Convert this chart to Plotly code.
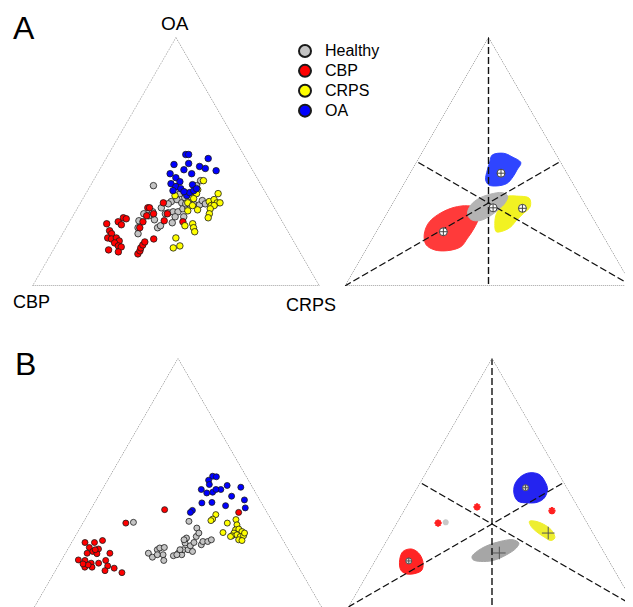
import plotly.graph_objects as go

# ---------------- DATA (ternary shares in %, OA + CBP + CRPS = 100) ----------------
groups = ["Healthy", "CBP", "CRPS", "OA"]

# Panel A, left: individual subjects (OA share, CRPS share; CBP is the remainder)
healthy_A_oa = [40.3, 42.3, 40.3, 33.9, 34.7, 33.4, 35.5, 34.3, 33.0, 32.6, 34.3, 29.0, 29.8, 31.4, 29.4,
                29.8, 29.8, 27.8, 27.8, 25.4, 26.6, 23.4, 24.2, 26.2, 23.4, 21.0, 28.2, 31.0, 31.4, 33.0,
                29.0, 33.0, 37.1, 35.9, 33.0]
healthy_A_crps = [22.0, 37.4, 37.0, 31.4, 33.0, 35.3, 35.3, 37.3, 39.6, 41.9, 42.0, 24.3, 27.0, 29.2, 32.6,
                  34.1, 35.8, 38.8, 35.8, 36.0, 29.2, 31.9, 32.5, 24.0, 25.1, 26.3, 26.4, 36.9, 38.4, 36.9,
                  31.8, 30.8, 32.8, 37.2, 43.7]
cbp_A_oa = [25.0, 25.8, 24.6, 27.4, 27.0, 22.2, 21.0, 19.3, 18.9, 19.3, 18.1, 17.3, 16.1, 15.7, 14.5,
            13.7, 12.9, 14.1, 15.3, 16.5, 17.7, 23.4, 25.8, 28.2, 31.4, 31.4, 29.0, 18.9, 26.2, 33.4,
            29.0, 25.8, 39.9]
cbp_A_crps = [13.4, 17.0, 18.7, 18.0, 19.2, 15.8, 17.1, 16.6, 18.1, 19.6, 21.2, 20.0, 21.9, 23.1, 19.3,
              23.1, 30.3, 30.4, 30.1, 30.2, 30.3, 25.7, 25.6, 25.7, 24.5, 25.1, 27.7, 32.8, 32.8, 28.9,
              32.5, 39.5, 30.0]
crps_A_oa = [42.3, 38.7, 37.1, 36.3, 33.4, 30.2, 30.6, 35.1, 32.3, 33.9, 34.7, 33.4, 33.4, 37.1, 32.3,
             32.3, 31.0, 29.0, 27.4, 24.2, 25.0, 23.4, 21.8, 19.3, 16.1, 15.3]
crps_A_crps = [38.4, 38.2, 38.6, 31.5, 37.4, 39.0, 42.2, 38.6, 39.6, 44.6, 45.9, 47.6, 48.6, 46.1, 46.1,
               47.1, 46.4, 47.1, 47.5, 41.0, 43.3, 44.4, 45.6, 40.3, 43.3, 41.4]
oa_A_oa = [52.8, 52.8, 48.8, 49.2, 51.2, 48.0, 47.2, 46.3, 46.7, 45.1, 45.1, 43.5, 41.9, 41.1, 40.7,
           39.9, 39.1, 38.3, 36.3, 37.5, 38.3, 39.1, 37.9]
oa_A_crps = [27.0, 28.0, 24.9, 29.8, 35.6, 34.2, 36.6, 40.8, 29.4, 32.9, 25.4, 28.2, 30.4, 27.7, 35.4,
             30.0, 32.1, 29.8, 35.6, 36.0, 37.0, 37.6, 33.8]

# Panel B, left: individual subjects
healthy_B_oa = [34.0, 21.6, 20.0, 23.0, 23.7, 23.9, 21.0, 18.7, 21.0, 20.6, 21.6, 21.0, 23.0, 25.7, 27.7,
                23.0, 24.6, 22.3, 25.9, 28.3, 31.7, 29.7, 25.0, 26.3, 26.3, 27.0, 34.4, 21.0, 23.0, 27.0]
healthy_B_crps = [17.5, 28.9, 31.1, 31.3, 31.8, 33.3, 34.3, 35.7, 32.3, 38.1, 39.3, 40.8, 40.3, 39.6, 39.1,
                  42.0, 42.0, 43.9, 42.6, 42.2, 40.7, 42.4, 45.6, 45.5, 47.2, 48.1, 36.6, 39.1, 39.2, 38.6]
cbp_B_oa = [25.9, 25.9, 26.7, 23.9, 23.3, 22.3, 21.6, 21.4, 21.6, 18.9, 18.7, 17.6, 16.0, 16.0, 17.6,
            18.7, 16.5, 14.6, 15.6, 13.8, 16.9, 17.3, 23.0, 33.7, 39.1, 38.0]
cbp_B_crps = [4.7, 8.0, 10.4, 7.2, 10.7, 9.2, 7.6, 11.1, 15.5, 5.9, 8.3, 11.0, 9.6, 12.1, 13.6,
              15.5, 17.3, 17.3, 20.0, 23.6, 10.3, 8.3, 9.7, 15.0, 25.8, 52.1]
crps_B_oa = [37.1, 35.3, 34.7, 33.7, 29.9, 35.1, 33.0, 31.0, 31.3, 30.3, 29.7, 28.6, 29.0, 28.3, 28.6,
             29.7, 27.0, 26.7, 28.3]
crps_B_crps = [44.6, 44.4, 44.1, 50.3, 50.7, 52.6, 54.0, 54.5, 55.5, 57.1, 54.6, 54.5, 56.0, 57.5, 58.5,
               58.3, 57.6, 58.9, 54.1]
oa_B_oa = [52.5, 52.3, 50.9, 49.2, 47.2, 45.8, 46.1, 47.2, 48.8, 48.1, 44.5, 43.0, 41.8, 42.0, 40.7,
           39.8, 38.8, 38.0, 47.2]
oa_B_crps = [35.8, 37.2, 35.2, 36.3, 34.5, 37.1, 39.0, 41.3, 42.7, 47.8, 46.4, 51.6, 37.4, 40.8, 46.2,
             53.5, 35.6, 35.3, 39.6]

# Panel A, right: group regions (outlines) and group centres
regA_healthy_oa = [32.5, 35.2, 36.9, 37.5, 36.1, 33.5, 30.8, 27.8, 26.2, 26.8, 29.2]
regA_healthy_crps = [27.6, 29.1, 32.3, 36.0, 38.6, 39.1, 38.2, 36.2, 33.6, 30.4, 28.1]
regA_cbp_oa = [26.5, 29.4, 31.6, 32.2, 31.2, 27.8, 23.2, 19.2, 15.8, 14.2, 14.5, 16.5, 19.8, 23.8]
regA_cbp_crps = [16.8, 18.8, 22.3, 26.6, 30.5, 32.8, 33.4, 33.1, 32.5, 28.7, 24.0, 20.1, 17.7, 16.5]
regA_crps_oa = [35.9, 36.1, 35.2, 31.8, 29.2, 26.5, 23.6, 22.2, 21.8, 25.2, 29.2, 32.5, 34.5]
regA_crps_crps = [38.5, 41.8, 46.6, 48.6, 47.6, 46.6, 45.8, 44.2, 41.8, 39.6, 38.2, 38.5, 38.6]
regA_oa_oa = [52.6, 53.3, 51.9, 49.5, 46.6, 43.9, 41.2, 40.2, 40.6, 42.6, 46.6, 49.9]
regA_oa_crps = [25.0, 28.6, 32.2, 36.5, 36.6, 36.6, 35.8, 32.9, 29.8, 27.7, 26.3, 25.5]
centA_oa = [31.4, 21.8, 31.2, 45.3]      # Healthy, CBP, CRPS, OA
centA_crps = [35.9, 23.4, 46.2, 31.7]

# Panel B, right: group regions, centres and outliers
regB_healthy_oa = [20.3, 22.3, 24.6, 26.3, 27.0, 25.7, 23.7, 21.0, 18.7, 18.3, 19.0]
regB_healthy_crps = [32.9, 33.6, 35.9, 39.6, 43.8, 46.5, 46.6, 44.6, 41.1, 36.8, 33.9]
regB_cbp_oa = [22.3, 23.3, 21.7, 18.3, 14.9, 13.6, 13.3, 14.9, 19.0]
regB_cbp_crps = [7.9, 10.3, 13.6, 16.8, 18.2, 16.9, 13.6, 10.8, 8.4]
regB_crps_oa = [34.4, 34.4, 32.7, 30.4, 27.7, 26.7, 28.1, 30.4, 32.4]
regB_crps_crps = [45.8, 48.1, 52.4, 55.8, 58.0, 57.1, 54.1, 50.1, 47.4]
regB_oa_oa = [52.5, 53.9, 53.2, 50.1, 47.2, 43.8, 42.1, 41.8, 42.5, 45.2, 49.2]
regB_oa_crps = [33.9, 36.1, 39.9, 43.5, 45.7, 46.3, 44.8, 41.6, 37.8, 35.1, 33.3]
centB_oa = [21.7, 18.5, 29.7, 47.9]
centB_crps = [41.7, 11.8, 54.7, 37.7]
outB_cbp_oa = [40.2, 33.7, 38.7]
outB_cbp_crps = [24.7, 14.4, 51.5]
outB_healthy_oa = [34.0]
outB_healthy_crps = [16.9]

vertex_labels = ["OA", "CBP", "CRPS"]
panel_labels = ["A", "B"]

# ---------------- STYLE ----------------
FONT = "Liberation Sans, Arial, Helvetica, sans-serif"
pt_col = {"Healthy": "#c4c4c4", "CBP": "#ff0000", "CRPS": "#ffff00", "OA": "#0000ff"}
regA_col = {"Healthy": "#b4b4b4", "CBP": "#ff3a3a", "CRPS": "#f2f222", "OA": "#2f45ff"}
regB_col = {"Healthy": "#a6a6a6", "CBP": "#ff2424", "CRPS": "#eeee30", "OA": "#2424f0"}

W, H = 633, 607
OFF = 8   # the page body margin shifts the figure by this many pixels
fig = go.Figure()


def points(sub, oa, crps, name, showlegend, size):
    fig.add_trace(go.Scatterternary(
        a=oa, c=crps, mode="markers", subplot=sub,
        name='<span style="font-size:16px">%s</span>' % name, legendgroup=name,
        showlegend=showlegend, hoverinfo="skip",
        marker=dict(size=size, color=pt_col[name], line=dict(color="#1a1a1a", width=0.8))))


def region(sub, oa, crps, color):
    fig.add_trace(go.Scatterternary(
        a=oa + oa[:1], c=crps + crps[:1], mode="lines", subplot=sub, fill="toself",
        fillcolor=color, line=dict(color=color, width=1, shape="spline", smoothing=1.0),
        showlegend=False, hoverinfo="skip"))


def edges(sub, with_bottom=True):
    if with_bottom:
        a, b, c = [100, 0, 0, 100], [0, 100, 0, 0], [0, 0, 100, 0]
    else:
        a, b, c = [0, 100, 0], [100, 0, 0], [0, 0, 100]
    fig.add_trace(go.Scatterternary(
        a=a, b=b, c=c, mode="lines", subplot=sub, cliponaxis=False,
        line=dict(color="#444444", width=1, dash="1px,1px"), showlegend=False, hoverinfo="skip"))


def medians(sub):
    fig.add_trace(go.Scatterternary(
        a=[100, 0, None, 0, 50, None, 0, 50],
        b=[0, 50, None, 100, 0, None, 0, 50],
        c=[0, 50, None, 0, 50, None, 100, 0],
        mode="lines", subplot=sub, cliponaxis=False,
        line=dict(color="#111111", width=1.4, dash="7px,3px"), showlegend=False, hoverinfo="skip"))


# --- Panel A left
edges("ternary")
points("ternary", healthy_A_oa, healthy_A_crps, "Healthy", True, 6.5)
points("ternary", cbp_A_oa, cbp_A_crps, "CBP", True, 6.5)
points("ternary", crps_A_oa, crps_A_crps, "CRPS", True, 6.5)
points("ternary", oa_A_oa, oa_A_crps, "OA", True, 6.5)

# --- Panel A right
edges("ternary2")
region("ternary2", regA_cbp_oa, regA_cbp_crps, regA_col["CBP"])
region("ternary2", regA_crps_oa, regA_crps_crps, regA_col["CRPS"])
region("ternary2", regA_oa_oa, regA_oa_crps, regA_col["OA"])
region("ternary2", regA_healthy_oa, regA_healthy_crps, regA_col["Healthy"])
medians("ternary2")
fig.add_trace(go.Scatterternary(
    a=centA_oa, c=centA_crps, mode="markers", subplot="ternary2", showlegend=False, hoverinfo="skip",
    marker=dict(symbol="circle-cross", size=8, color="white", line=dict(color="#444444", width=1))))

# --- Panel B left
edges("ternary3", with_bottom=False)
points("ternary3", healthy_B_oa, healthy_B_crps, "Healthy", False, 6)
points("ternary3", cbp_B_oa, cbp_B_crps, "CBP", False, 6)
points("ternary3", crps_B_oa, crps_B_crps, "CRPS", False, 6)
points("ternary3", oa_B_oa, oa_B_crps, "OA", False, 6)

# --- Panel B right
edges("ternary4", with_bottom=False)
region("ternary4", regB_cbp_oa, regB_cbp_crps, regB_col["CBP"])
region("ternary4", regB_crps_oa, regB_crps_crps, regB_col["CRPS"])
region("ternary4", regB_oa_oa, regB_oa_crps, regB_col["OA"])
region("ternary4", regB_healthy_oa, regB_healthy_crps, regB_col["Healthy"])
medians("ternary4")
fig.add_trace(go.Scatterternary(
    a=outB_cbp_oa, c=outB_cbp_crps, mode="markers", subplot="ternary4", showlegend=False, hoverinfo="skip",
    marker=dict(symbol="asterisk-open", size=6, color="#ff2020", line=dict(color="#ff2020", width=2))))
fig.add_trace(go.Scatterternary(
    a=outB_healthy_oa, c=outB_healthy_crps, mode="markers", subplot="ternary4", showlegend=False,
    hoverinfo="skip",
    marker=dict(symbol="asterisk-open", size=5, color="#c8c8c8", line=dict(color="#c8c8c8", width=2))))
fig.add_trace(go.Scatterternary(
    a=[centB_oa[1], centB_oa[3]], c=[centB_crps[1], centB_crps[3]], mode="markers", subplot="ternary4",
    showlegend=False, hoverinfo="skip",
    marker=dict(symbol="circle-cross", size=6, color="#dddddd", line=dict(color="#555555", width=1))))
fig.add_trace(go.Scatterternary(
    a=[centB_oa[0], centB_oa[2]], c=[centB_crps[0], centB_crps[2]], mode="markers", subplot="ternary4",
    showlegend=False, hoverinfo="skip",
    marker=dict(symbol="cross-thin-open", size=9, color="#555555", line=dict(color="#555555", width=1))))


# ---------------- LAYOUT (positions given in page pixels) ----------------
def tern(cx, top, bottom):
    ax = dict(showline=False, showgrid=False, showticklabels=False, ticks="", title=dict(text=""),
              min=0, linewidth=0)
    half = 144
    cx, top, bottom = cx - OFF, top - OFF, bottom - OFF
    x0 = max(cx - half, 0)
    x1 = min(cx + half, W)
    return dict(domain=dict(x=[x0 / W, x1 / W], y=[1 - bottom / H, 1 - top / H]),
                sum=100, bgcolor="rgba(0,0,0,0)", aaxis=ax, baxis=ax, caxis=ax)


def px(x):
    return (x - OFF) / W


def py(y):
    return 1 - (y - OFF) / H


annotations = [
    dict(text=panel_labels[0], x=px(24), y=1.0, yanchor="top", font=dict(size=32)),
    dict(text=panel_labels[1], x=px(25), y=py(364), yanchor="middle", font=dict(size=32)),
    dict(text=vertex_labels[0], x=px(175), y=py(23), yanchor="middle", font=dict(size=19)),
    dict(text=vertex_labels[1], x=px(31), y=py(302), yanchor="middle", font=dict(size=18)),
    dict(text=vertex_labels[2], x=px(311), y=py(305), yanchor="middle", font=dict(size=18)),
]
for an in annotations:
    an.update(xref="paper", yref="paper", showarrow=False, xanchor="center")
    an["font"].update(family=FONT, color="black")

fig.update_layout(
    width=W, height=H, template="none",
    margin=dict(l=0, r=0, t=0, b=0),
    paper_bgcolor="white", plot_bgcolor="white",
    font=dict(family=FONT, color="black"),
    ternary=tern(176, 37, 286),
    ternary2=tern(488.5, 37, 286),
    ternary3=tern(178, 358, 607),
    ternary4=tern(492, 358, 607),
    annotations=annotations,
    showlegend=True,
    legend=dict(x=px(285), y=py(36), xanchor="left", yanchor="top", bgcolor="rgba(0,0,0,0)",
                font=dict(size=13, family=FONT), itemsizing="constant", tracegroupgap=0),
)

fig.write_html("out.html")
